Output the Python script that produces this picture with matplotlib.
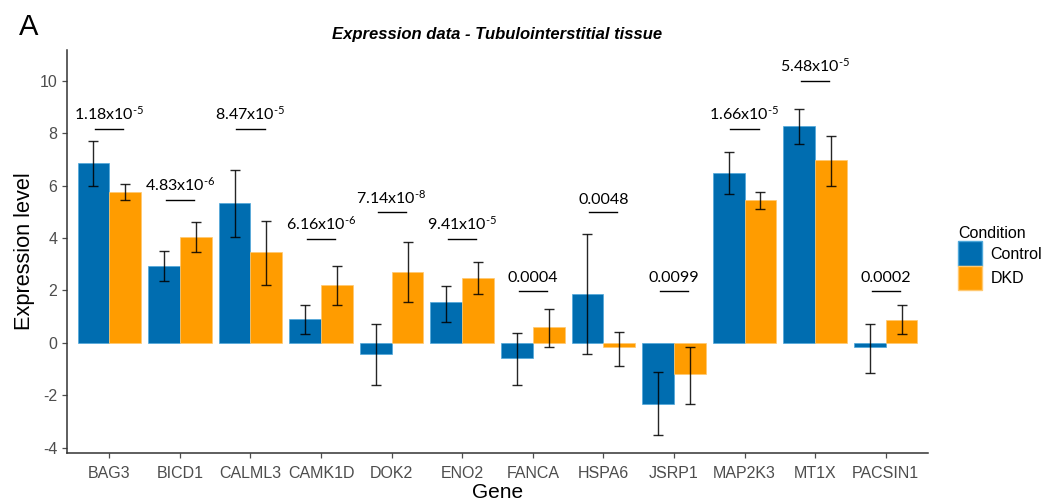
import matplotlib

matplotlib.use("Agg")
import matplotlib.pyplot as plt
import numpy as np
from matplotlib.patches import Patch

genes = ["BAG3", "BICD1", "CALML3", "CAMK1D", "DOK2", "ENO2",
         "FANCA", "HSPA6", "JSRP1", "MAP2K3", "MT1X", "PACSIN1"]

# bar heights and error bar bounds
control_mean = [6.87, 2.93, 5.32, 0.92, -0.43, 1.54, -0.60, 1.86, -2.32, 6.47, 8.28, -0.18]
control_lo = [6.00, 2.34, 4.02, 0.32, -1.60, 0.80, -1.60, -0.42, -3.54, 5.68, 7.60, -1.16]
control_hi = [7.70, 3.50, 6.61, 1.44, 0.70, 2.18, 0.37, 4.16, -1.11, 7.29, 8.92, 0.70]

dkd_mean = [5.77, 4.04, 3.46, 2.19, 2.72, 2.48, 0.59, -0.18, -1.21, 5.44, 6.98, 0.88]
dkd_lo = [5.44, 3.45, 2.22, 1.43, 1.55, 1.88, -0.18, -0.87, -2.34, 5.09, 6.00, 0.32]
dkd_hi = [6.05, 4.61, 4.66, 2.92, 3.86, 3.08, 1.29, 0.41, -0.17, 5.75, 7.89, 1.44]

# p-value labels and the height of their bracket line
p_labels = [r"1.18x10$^{\text{-5}}$", r"4.83x10$^{\text{-6}}$", r"8.47x10$^{\text{-5}}$",
            r"6.16x10$^{\text{-6}}$", r"7.14x10$^{\text{-8}}$", r"9.41x10$^{\text{-5}}$",
            "0.0004", "0.0048", "0.0099",
            r"1.66x10$^{\text{-5}}$", r"5.48x10$^{\text{-5}}$", "0.0002"]
p_y = [8.17, 5.47, 8.17, 3.98, 4.98, 3.98, 1.97, 4.98, 1.99, 8.17, 10.0, 1.99]

BLUE = "#006DB0"
ORANGE = "#FF9C00"
GREY = "#4D4D4D"

plt.rcParams["font.family"] = ["Liberation Sans", "DejaVu Sans"]
plt.rcParams["axes.unicode_minus"] = False
plt.rcParams["mathtext.fontset"] = "custom"
plt.rcParams["mathtext.rm"] = "Lato"
plt.rcParams["mathtext.it"] = "Lato"

fig = plt.figure(figsize=(10.51, 5.01), dpi=100)
ax = fig.add_axes([67 / 1051, 1 - 453 / 501, (928 - 67) / 1051, (453 - 50) / 501])

x = np.arange(len(genes))
w = 0.45
cm_ = np.array(control_mean)
dm_ = np.array(dkd_mean)
ax.bar(x - w / 2, cm_, width=w, color=BLUE, edgecolor="#4FA8DA", linewidth=0.5)
ax.bar(x + w / 2, dm_, width=w, color=ORANGE, edgecolor="#FFC870", linewidth=0.5)

ekw = dict(fmt="none", ecolor="black", elinewidth=1.0, capsize=3.5, capthick=1.0, alpha=0.85)
ax.errorbar(x - w / 2, cm_, yerr=[cm_ - np.array(control_lo), np.array(control_hi) - cm_], **ekw)
ax.errorbar(x + w / 2, dm_, yerr=[dm_ - np.array(dkd_lo), np.array(dkd_hi) - dm_], **ekw)

for i, (lab, y) in enumerate(zip(p_labels, p_y)):
    ax.plot([i - 0.2, i + 0.2], [y, y], color="black", linewidth=1.0)
    ax.text(i, y + 0.22, lab, ha="center", va="bottom", fontsize=11.5,
            family=["Lato", "DejaVu Sans"])

ax.set_xlim(-0.6, 11.6)
ax.set_ylim(-4.21, 11.18)
ax.set_xticks(x)
ax.set_xticklabels(genes)
ax.set_yticks(np.arange(-4, 11, 2))
ax.tick_params(axis="both", colors=GREY, labelsize=11.5, length=3.5, width=0.9)
ax.tick_params(axis="x", pad=6)
for s in ["top", "right"]:
    ax.spines[s].set_visible(False)
for s in ["left", "bottom"]:
    ax.spines[s].set_color("#333333")
    ax.spines[s].set_linewidth(1.1)

ax.set_ylabel("Expression level", fontsize=15.7, color="black", labelpad=3)
ax.set_xlabel("Gene", fontsize=15, color="black", labelpad=1)
ax.set_title("Expression data - Tubulointerstitial tissue", fontsize=12,
             fontweight="bold", fontstyle="italic", pad=8)

fig.text(0.018, 0.93, "A", fontsize=21)

handles = [Patch(facecolor=BLUE, edgecolor="#4FA8DA"), Patch(facecolor=ORANGE, edgecolor="#FFC870")]
fig.legend(handles, ["Control", "DKD"], title="Condition", loc="upper left",
           bbox_to_anchor=(944 / 1051, 1 - 212 / 501), frameon=False, fontsize=11.5,
           title_fontsize=11.5, handlelength=1.45, handleheight=1.95, labelspacing=0.0,
           handletextpad=0.55, alignment="left")

fig.savefig("out.png", dpi=100)
